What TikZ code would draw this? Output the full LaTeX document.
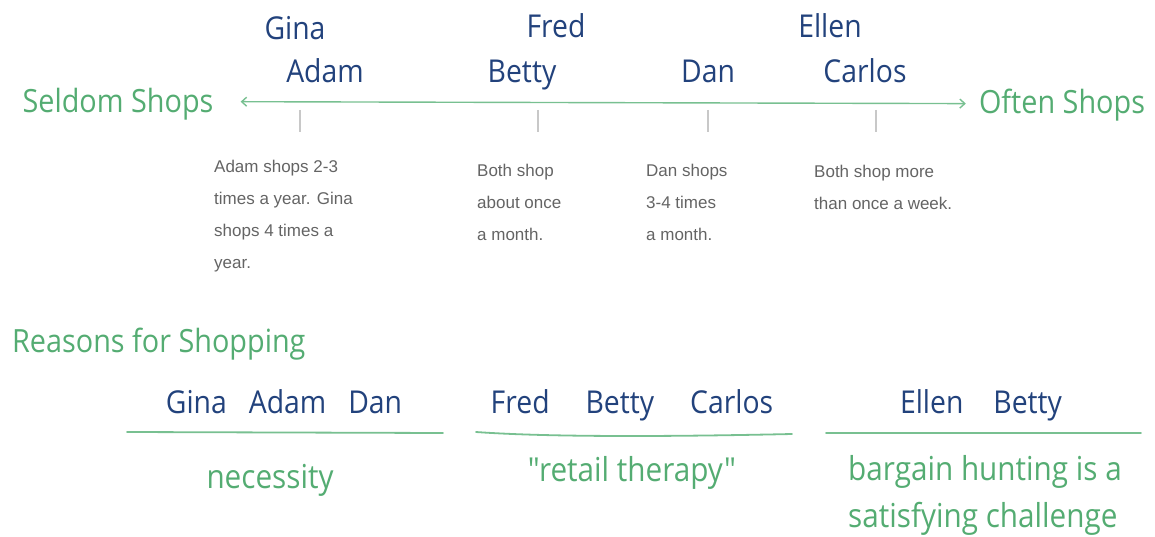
\documentclass[tikz,border=0pt]{standalone}
\usepackage{fontspec}
\setmainfont{Liberation Sans}
\newfontfamily\handfont[FakeStretch=0.9]{Open Sans}
\usetikzlibrary{arrows.meta}

\definecolor{penGreen}{RGB}{84,172,114}
\definecolor{ruleGreen}{RGB}{120,192,145}
\definecolor{penBlue}{RGB}{34,66,124}
\definecolor{noteGray}{RGB}{100,100,100}
\definecolor{tickGray}{RGB}{200,200,200}

\begin{document}
\begin{tikzpicture}[x=1pt,y=-1pt,
    hand/.style={font=\handfont\fontsize{31.5}{31.5}\selectfont, inner sep=0pt, anchor=base},
    who/.style={hand, text=penBlue},
    why/.style={hand, text=penGreen, font=\handfont\fontsize{33}{47}\selectfont},
    big/.style={why, font=\handfont\fontsize{32}{32}\selectfont},
    note/.style={font=\fontsize{17}{32}\selectfont, text=noteGray, align=left,
      anchor=north west, inner sep=0pt},
    axis/.style={draw=ruleGreen, line width=1.4pt,
      {Straight Barb[length=5pt,width=9pt]}-{Straight Barb[length=5pt,width=9pt]}},
    tick/.style={draw=tickGray, line width=1.3pt},
    rule/.style={draw=ruleGreen, line width=1.8pt, line cap=round}]

  \useasboundingbox (0,0) rectangle (1155,537);

  %%%%%%%%%%%%%%%%%%%%%%%%%%%%%%%%%%%%%%%%%%%%%%%%%%%%%%%%%%%%%%%%%%%%%%%%%%%
  %%%%  How often
  \node[big] (seldom) at (118,113) {Seldom Shops};
  \node[big] (often) at (1062,114) {Often Shops};
  \draw[axis] ([xshift=27pt,yshift=3pt]seldom.east) -- ([xshift=-13pt,yshift=2pt]often.west);

  \node[who] (gina)   at (295,40) {Gina};
  \node[who] (adam)   at (325,83) {Adam};
  \node[who] (fred)   at (556,38) {Fred};
  \node[who] (betty)  at (522,83) {Betty};
  \node[who] (dan)    at (708,83) {Dan};
  \node[who] (ellen)  at (830,38) {Ellen};
  \node[who] (carlos) at (865,83) {Carlos};

  \foreach \x/\n in {300/a,538/b,708/c,876/d}
  {\coordinate (tick\n) at (\x,110);
   \draw[tick] (tick\n) -- ++(0,22);};

  \node[note] (noteA) at (214,159.5) {Adam shops 2-3\\times a year. Gina\\shops 4 times a\\year.};
  \node[note] (noteB) at (477,163.5) {Both shop\\about once\\a month.};
  \node[note] (noteC) at (646,163.5) {Dan shops\\3-4 times\\a month.};
  \node[note] (noteD) at (814,164.5) {Both shop more\\than once a week.};

  %%%%%%%%%%%%%%%%%%%%%%%%%%%%%%%%%%%%%%%%%%%%%%%%%%%%%%%%%%%%%%%%%%%%%%%%%%%
  %%%%  Why
  \node[big, anchor=base west] (reasons) at (12,352) {Reasons for Shopping};

  \node[who] (grpA) at (284,413) {Gina\hspace{22pt}Adam\hspace{22pt}Dan};
  \node[who] (grpB) at (632,413) {Fred\hspace{36pt}Betty\hspace{36pt}Carlos};
  \node[who] (grpC) at (981,413) {Ellen\hspace{30pt}Betty};

  \draw[rule] (127,432) -- (443,433);
  \draw[rule] (476,432) .. controls (560,438) and (700,436) .. (792,434);
  \draw[rule] (826,433) -- (1141,433);

  \node[why] (needA) at (270,488) {necessity};
  \node[why] (needB) at (632,481) {"retail therapy"};
  \node[why, anchor=north west, align=left] (needC) at (848,455) {bargain hunting is a\\satisfying challenge};
\end{tikzpicture}
\end{document}
